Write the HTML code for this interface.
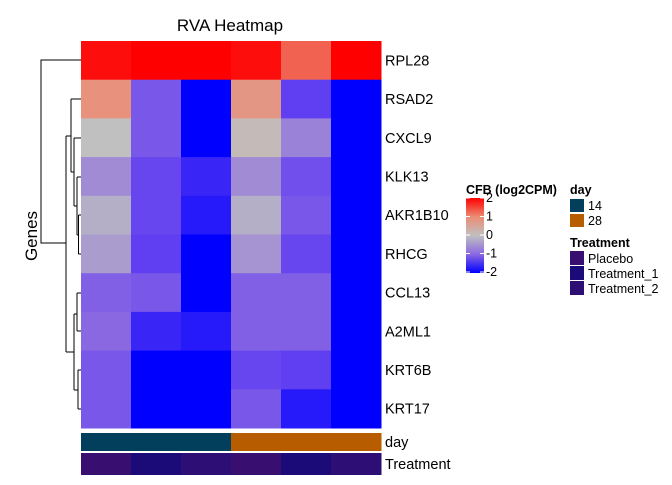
<!DOCTYPE html>
<html><head><meta charset="utf-8"><style>
body{margin:0;background:#fff;font-family:"Liberation Sans",sans-serif}
svg text{font-family:"Liberation Sans",sans-serif}
</style></head><body>
<svg id="c" width="672" height="480">
<text x="230" y="31" font-size="17" text-anchor="middle">RVA Heatmap</text>
<text transform="translate(37,236) rotate(-90)" font-size="17" text-anchor="middle">Genes</text>
<g id="dend" stroke="#000" stroke-width="1" fill="none">
<path d="M81,60H41V243H66"/>
<path d="M66,136V352"/>
<path d="M66,136H71M71,99V172M71,99H81M71,172H74M74,138V206M74,138H81M74,206H77M77,177V235M77,177H81M77,235H78.5M78.5,215V254M78.5,215H81M78.5,254H81"/>
<path d="M66,352H74M74,314V390M74,314H77M77,293V331M77,293H81M77,331H81M74,390H78M78,370V409M78,370H81M78,409H81"/>
</g>
<g id="cells"></g>
<g id="legend" font-size="12.5">
<text x="466" y="194" font-weight="bold">CFB (log2CPM)</text>
<defs><linearGradient id="g" x1="0" y1="0" x2="0" y2="1">
<stop offset="0" stop-color="#ff0000"/><stop offset="0.25" stop-color="#ec8c74"/><stop offset="0.5" stop-color="#c0c0c0"/><stop offset="0.75" stop-color="#8a68e2"/><stop offset="1" stop-color="#0000ff"/></linearGradient></defs>
<rect x="466" y="198" width="18" height="75" fill="url(#g)"/>
<g id="cticks"></g>
<text x="570" y="194" font-weight="bold">day</text>
<rect x="570" y="199" width="14" height="13" fill="#023f5c"/>
<text x="588" y="210">14</text>
<rect x="570" y="214" width="14" height="13" fill="#b85c00"/>
<text x="588" y="225">28</text>
<text x="570" y="247" font-weight="bold">Treatment</text>
<rect x="570" y="251" width="14" height="14" fill="#380f70"/>
<text x="588" y="263">Placebo</text>
<rect x="570" y="266" width="14" height="14" fill="#1a0b78"/>
<text x="588" y="278">Treatment_1</text>
<rect x="570" y="281" width="14" height="14" fill="#2c0e74"/>
<text x="588" y="293">Treatment_2</text>
</g>
</svg>
<script>
const genes=["RPL28","RSAD2","CXCL9","KLK13","AKR1B10","RHCG","CCL13","A2ML1","KRT6B","KRT17"];
const values=[
[1.9,2.2,2.2,1.9,1.3,2.2],
[0.9,-1.2,-2.5,0.8,-1.5,-2.5],
[0.0,-1.2,-2.5,0.1,-0.7,-2.5],
[-0.6,-1.4,-1.7,-0.6,-1.3,-2.5],
[-0.2,-1.4,-1.8,-0.2,-1.2,-2.5],
[-0.4,-1.5,-2.5,-0.5,-1.4,-2.5],
[-1.1,-1.2,-2.5,-1.1,-1.1,-2.5],
[-1.0,-1.7,-1.8,-1.1,-1.1,-2.5],
[-1.2,-2.5,-2.5,-1.4,-1.5,-2.5],
[-1.2,-2.5,-2.5,-1.2,-1.8,-2.5]];
const days=["14","14","14","28","28","28"];
const treatments=["Placebo","Treatment_1","Treatment_2","Placebo","Treatment_1","Treatment_2"];
const colorTicks=[2,1,0,-1,-2];
const dayCol={"14":"#023f5c","28":"#b85c00"};
const trCol={"Placebo":"#380f70","Treatment_1":"#1a0b78","Treatment_2":"#2c0e74"};
const stops=[[-2,[0,0,255]],[-1.5,[96,62,242]],[-1,[138,104,226]],[0,[192,192,192]],[1,[236,140,116]],[2,[255,0,0]]];
function col(v){v=Math.max(-2,Math.min(2,v));for(let i=0;i<stops.length-1;i++){const[a,ca]=stops[i],[b,cb]=stops[i+1];if(v<=b){const t=(v-a)/(b-a);return "rgb("+ca.map((c,k)=>Math.round(c+(cb[k]-c)*t)).join(",")+")";}}}
const X0=81,CW=50,Y0=41,RH=38.7;
const xs=j=>X0+j*CW, ys=i=>Y0+i*RH;
const ns="http://www.w3.org/2000/svg",g=document.getElementById("cells");
function mk(t,a){const e=document.createElementNS(ns,t);for(const k in a)e.setAttribute(k,a[k]);return e;}
genes.forEach((gn,i)=>{
 values[i].forEach((v,j)=>{
  const r=mk("rect",{x:xs(j),y:ys(i),width:CW+0.5,height:RH+0.5,fill:col(v)});
  
  
  g.appendChild(r);
 });
 const t=mk("text",{x:385,y:ys(i)+RH/2+5,"font-size":14.5});t.textContent=gn;
 
 
 g.appendChild(t);
});
days.forEach((d,j)=>{
 const r=mk("rect",{x:xs(j),y:433,width:CW+0.5,height:18,fill:dayCol[d]});
 
 
 g.appendChild(r);
});
treatments.forEach((d,j)=>{
 const r=mk("rect",{x:xs(j),y:453,width:CW+0.5,height:22,fill:trCol[d]});
 
 
 g.appendChild(r);
});
[["day",447],["Treatment",469]].forEach(([s,y])=>{const t=mk("text",{x:385,y:y,"font-size":14.5});t.textContent=s;
 
 
 g.appendChild(t);});
const ct=document.getElementById("cticks");
colorTicks.forEach(v=>{
 const y=198+(2-v)/4*74;
 const l=mk("path",{d:`M466,${y}h4M480,${y}h4`,stroke:"#fff","stroke-width":1});
 
 
 ct.appendChild(l);
 const t=mk("text",{x:486,y:y+4,"font-size":12.5});t.textContent=v;
 
 
 ct.appendChild(t);
});
</script>
</body></html>
